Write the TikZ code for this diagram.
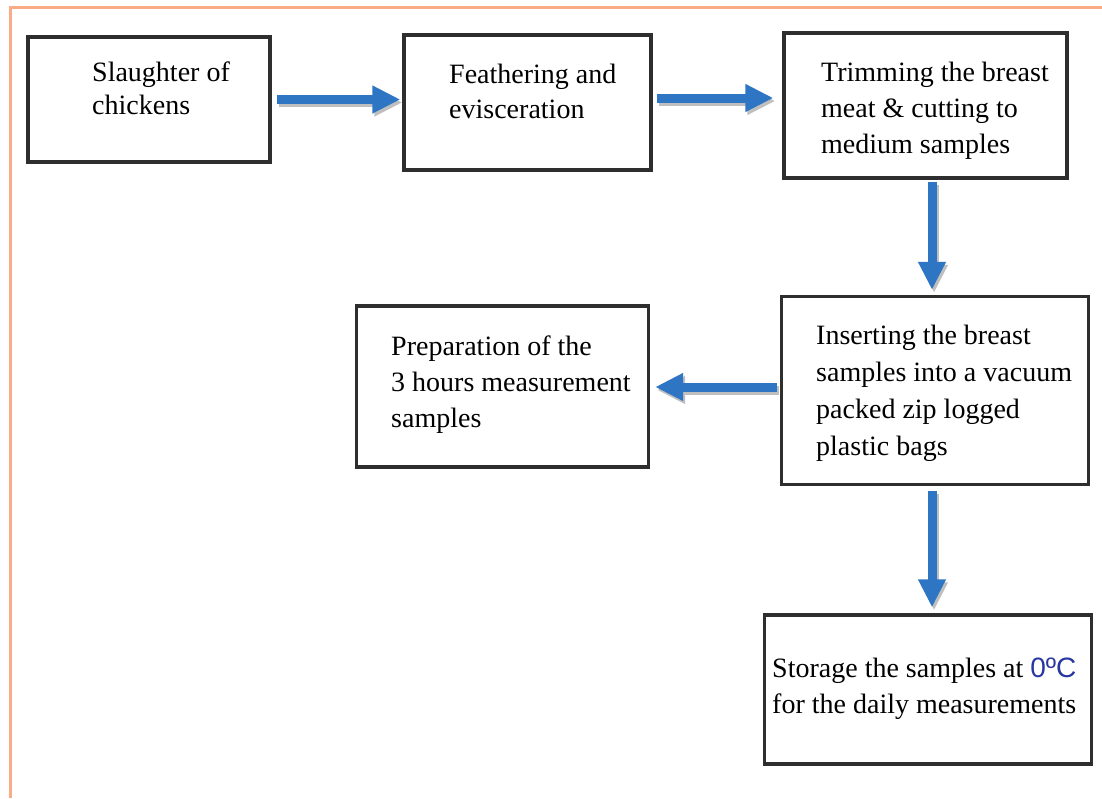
\documentclass[tikz,border=0pt]{standalone}
\usepackage{fontspec}
\setmainfont{Liberation Serif}
\newfontfamily\degfont{Liberation Sans}
\usetikzlibrary{arrows.meta}
\definecolor{flowblue}{RGB}{46,117,196}
\definecolor{frameorange}{RGB}{250,172,135}
\definecolor{degblue}{RGB}{40,55,160}
\tikzset{
  stepbox/.style={draw=black!82, line width=3.3pt, rectangle, inner sep=0pt},
  steptext/.style={anchor=base west, align=left, inner sep=0pt,
    font=\fontsize{28}{#1}\selectfont},
  steptext/.default=36,
  flow/.style={draw=flowblue, line width=9pt,
    -{Triangle[width=26pt,length=28pt]}},
  flowshadow/.style={draw=black!25, line width=9pt,
    -{Triangle[width=26pt,length=28pt]},
    transform canvas={xshift=2pt,yshift=-3pt}}
}
\begin{document}
\begin{tikzpicture}[x=1pt,y=-1pt]
\useasboundingbox[fill=white] (0,0) rectangle (1102,798);
% outer frame
\draw[frameorange, line width=3pt] (10,798) -- (10,7) -- (1102,7);

% boxes
\node[stepbox, minimum width=242pt, minimum height=125pt] (b1) at (149,99.5) {};
\node[stepbox, minimum width=247pt, minimum height=135pt] (b2) at (527.5,102.5) {};
\node[stepbox, minimum width=283pt, minimum height=145pt] (b3) at (925.5,105.5) {};
\node[stepbox, minimum width=307pt, minimum height=188pt] (b4) at (935,390.5) {};
\node[stepbox, minimum width=292pt, minimum height=161pt] (b5) at (502.5,386.5) {};
\node[stepbox, minimum width=327pt, minimum height=149pt] (b6) at (928,689.5) {};

% texts (anchor = baseline of last line)
\node[steptext=33] (t1) at (92,114) {Slaughter of\\chickens};
\node[steptext=35] (t2) at (449,118) {Feathering and\\evisceration};
\node[steptext=36] (t3) at (821,153) {Trimming the breast\\meat \& cutting to\\medium samples};
\node[steptext=37] (t4) at (816,455) {Inserting the breast\\samples into a vacuum\\packed zip logged\\plastic bags};
\node[steptext=36] (t5) at (391,427) {Preparation of the\\3 hours measurement\\samples};
\node[steptext=36] (t6) at (772,713) {Storage the samples at {\degfont\color{degblue}0ºC}\\for the daily measurements};

% arrows (shadows first)
\draw[flowshadow, shorten <=5pt, shorten >=2pt] (b1.east) -- (b1.east -| b2.west);
\draw[flowshadow, shorten <=4pt, shorten >=9pt] ([yshift=4.5pt]b2.east) -- ([yshift=4.5pt]b2.east -| b3.west);
\draw[flowshadow, shorten <=2pt, shorten >=5pt] ([xshift=-3pt]b4.north |- b3.south) -- ([xshift=-3pt]b4.north);
\draw[flowshadow, shorten <=3pt, shorten >=5pt] ([yshift=3.5pt]b4.west) -- ([yshift=3.5pt]b4.west -| b5.east);
\draw[flowshadow, shorten <=5pt, shorten >=6pt] ([xshift=-3pt]b4.south) -- ([xshift=-3pt]b4.south |- b6.north);

\draw[flow, shorten <=5pt, shorten >=2pt] (b1.east) -- (b1.east -| b2.west);
\draw[flow, shorten <=4pt, shorten >=9pt] ([yshift=4.5pt]b2.east) -- ([yshift=4.5pt]b2.east -| b3.west);
\draw[flow, shorten <=2pt, shorten >=5pt] ([xshift=-3pt]b4.north |- b3.south) -- ([xshift=-3pt]b4.north);
\draw[flow, shorten <=3pt, shorten >=5pt] ([yshift=3.5pt]b4.west) -- ([yshift=3.5pt]b4.west -| b5.east);
\draw[flow, shorten <=5pt, shorten >=6pt] ([xshift=-3pt]b4.south) -- ([xshift=-3pt]b4.south |- b6.north);
\end{tikzpicture}
\end{document}
